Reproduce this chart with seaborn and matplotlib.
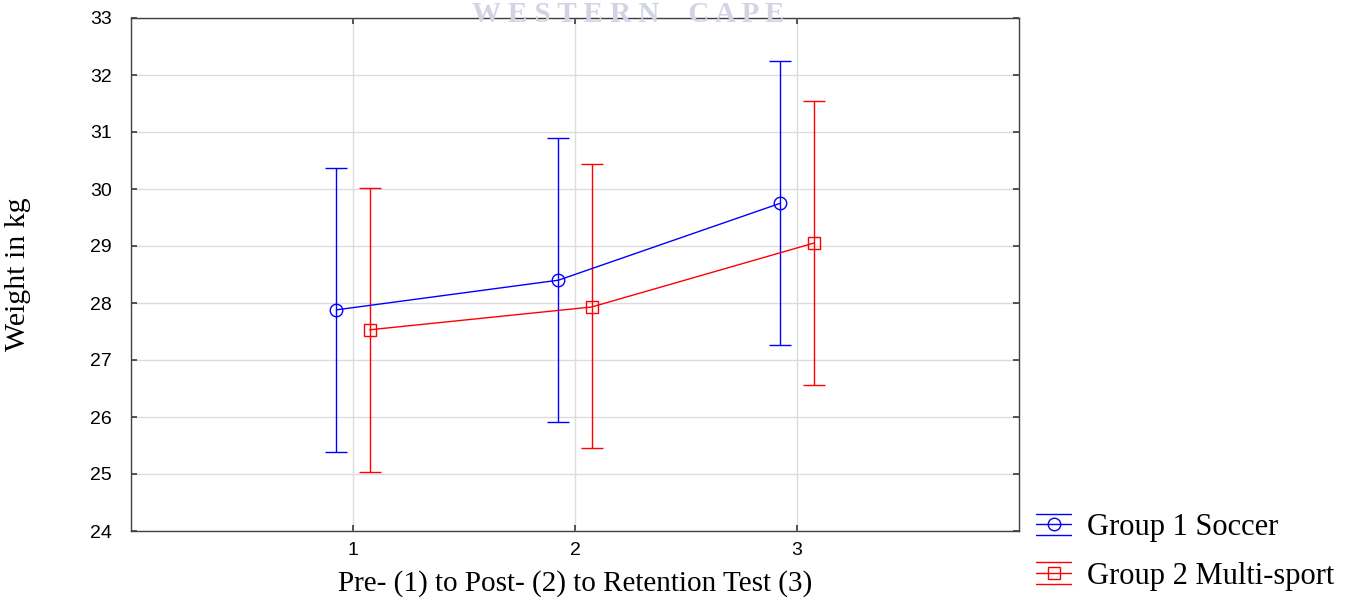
import matplotlib
matplotlib.use("Agg")
import matplotlib.pyplot as plt
import seaborn as sns
import pandas as pd
import numpy as np
from matplotlib.legend_handler import HandlerBase
from matplotlib.lines import Line2D

# ---- data ----
tests = [1, 2, 3]
soccer_mean = [27.88, 28.40, 29.75]
soccer_low = [25.39, 25.91, 27.26]
soccer_high = [30.37, 30.89, 32.25]
multi_mean = [27.53, 27.93, 29.05]
multi_low = [25.04, 25.46, 26.56]
multi_high = [30.02, 30.44, 31.54]
groups = ["Group 1 Soccer", "Group 2 Multi-sport"]
yticks = [24, 25, 26, 27, 28, 29, 30, 31, 32, 33]

sns.set_theme(style="white")
plt.rcParams['font.family'] = ['Liberation Sans', 'DejaVu Sans']
plt.rcParams['text.color'] = 'black'

fig = plt.figure(figsize=(13.65, 6.13), dpi=100)
ax = fig.add_axes([131/1365, 1-531/613, (1019-131)/1365, (531-18)/613])

offset = 0.075
specs = [
    (groups[0], soccer_mean, soccer_low, soccer_high, "#0000ff", "o", -offset),
    (groups[1], multi_mean, multi_low, multi_high, "#ff0000", "s", offset),
]
rows = []
for name, m, lo, hi, c, mk, off in specs:
    for t, mv, l, h in zip(tests, m, lo, hi):
        rows.append(dict(group=name, x=t + off, mean=mv, lo=l, hi=h))
df = pd.DataFrame(rows)

for name, m, lo, hi, c, mk, off in specs:
    sub = df[df.group == name]
    sns.lineplot(data=sub, x="x", y="mean", color=c, marker=mk, ax=ax,
                 markersize=9 if mk == "o" else 8.5, markerfacecolor="none",
                 markeredgecolor=c, markeredgewidth=1,
                 linewidth=1, legend=False, zorder=3)
    ax.errorbar(sub.x, sub["mean"],
                yerr=[sub["mean"] - sub.lo, sub.hi - sub["mean"]],
                fmt="none", ecolor=c, elinewidth=1, capsize=8, capthick=1,
                zorder=2)

ax.set_xlim(0, 4)
ax.set_ylim(24, 33)
ax.set_xticks(tests)
ax.set_yticks(yticks)
ax.grid(True, color="#dcdcdc", linewidth=1)
ax.set_axisbelow(True)
for s in ax.spines.values():
    s.set_color("#404040")
    s.set_linewidth(1)
ax.tick_params(direction="in", length=4, color="#404040", labelsize=14,
               labelcolor="black",
               top=True, right=True, left=True, bottom=True,
               labeltop=False, labelright=False, pad=8)
ax.tick_params(axis="y", pad=14)

serif = ['Liberation Serif', 'DejaVu Serif']
ax.set_xlabel("Pre- (1) to Post- (2) to Retention Test (3)", family=serif,
              fontsize=21, labelpad=8, color="black")
ax.set_ylabel("Weight in kg", family=serif, fontsize=21.5, labelpad=42,
              color="black")

fig.text(628/1365, 1-15/613, "W E S T E R N    C A P E", family=serif,
         fontsize=21, fontweight="bold", color="#d2d4e4", ha="center",
         va="center", zorder=0)


class EBHandler(HandlerBase):
    def __init__(self, color, marker):
        super().__init__()
        self.color = color
        self.marker = marker

    def create_artists(self, legend, orig_handle, xdescent, ydescent, width,
                       height, fontsize, trans):
        cy = height / 2 - ydescent
        gap = height * 0.5
        arts = []
        for y in (cy - gap, cy, cy + gap):
            arts.append(Line2D([-xdescent, -xdescent + width], [y, y],
                               color=self.color, lw=1, transform=trans))
        arts.append(Line2D([-xdescent + width / 2], [cy], marker=self.marker,
                           markersize=9, markerfacecolor="none",
                           markeredgecolor=self.color, lw=0, transform=trans))
        return arts


h1 = Line2D([], [], color="#0000ff")
h2 = Line2D([], [], color="#ff0000")
leg = fig.legend([h1, h2], groups,
                 handler_map={h1: EBHandler("#0000ff", "o"),
                              h2: EBHandler("#ff0000", "s")},
                 loc="lower left", bbox_to_anchor=(1024/1365, 1-603/613),
                 frameon=False, prop={'family': serif, 'size': 22},
                 handlelength=1.15, handletextpad=0.5, labelspacing=0.65,
                 borderaxespad=0, borderpad=0.4)
for t in leg.get_texts():
    t.set_color("black")

fig.savefig("out.png", dpi=100, facecolor="white")
